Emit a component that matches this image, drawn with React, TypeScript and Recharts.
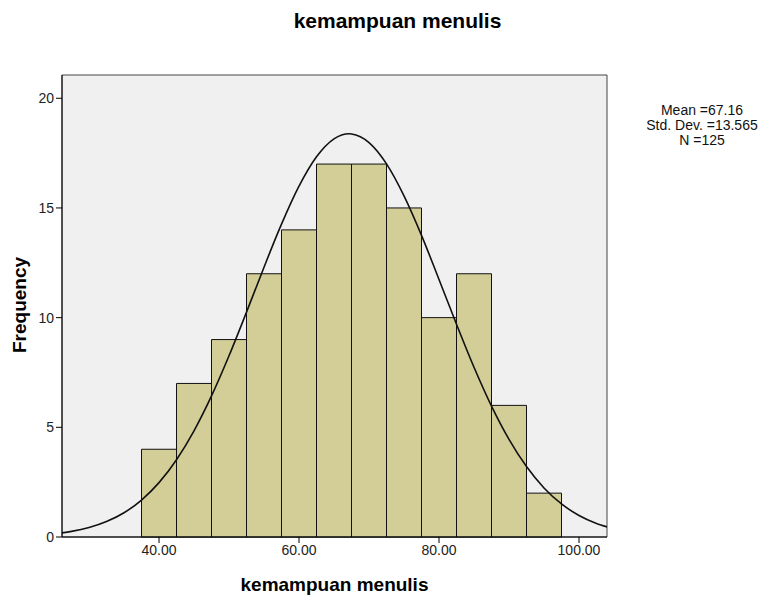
import React from 'react';
import { ComposedChart, Line, XAxis, YAxis, ReferenceArea } from 'recharts';

const binStarts = [37.5, 42.5, 47.5, 52.5, 57.5, 62.5, 67.5, 72.5, 77.5, 82.5, 87.5, 92.5];
const binEnds = [42.5, 47.5, 52.5, 57.5, 62.5, 67.5, 72.5, 77.5, 82.5, 87.5, 92.5, 97.5];
const frequencies = [4, 7, 9, 12, 14, 17, 17, 15, 10, 12, 6, 2];

const curveX = [26, 27.5, 30, 32.5, 35, 37.5, 40, 42.5, 45, 47.5, 50, 52.5, 55, 57.5, 60, 62.5, 65, 67.16, 67.5, 70, 72.5, 75, 77.5, 80, 82.5, 85, 87.5, 90, 92.5, 95, 97.5, 100, 102.5, 104];
const curveY = [0.184, 0.256, 0.431, 0.703, 1.106, 1.684, 2.478, 3.523, 4.841, 6.431, 8.26, 10.25, 12.3, 14.26, 15.99, 17.33, 18.15, 18.38, 18.37, 17.98, 17.01, 15.55, 13.75, 11.74, 9.7, 7.74, 5.97, 4.454, 3.211, 2.237, 1.507, 0.981, 0.617, 0.46];

const xTicks = [40, 60, 80, 100];
const yTicks = [0, 5, 10, 15, 20];
const xDomain: [number, number] = [26.14, 104];
const yDomain: [number, number] = [0, 21.06];
const statsLines = ['Mean =67.16', 'Std. Dev. =13.565', 'N =125'];

const curveData = curveX.map((x, i) => ({ x, y: curveY[i] }));

const font = 'Arial, "Liberation Sans", sans-serif';

export default function App() {
  return (
    <div style={{ position: 'absolute', left: 0, top: 0, width: 763, height: 600, background: '#fff', fontFamily: font }}>
      <div style={{ position: 'absolute', left: 0, width: 795, top: 9, textAlign: 'center', fontSize: 21, fontWeight: 'bold', color: '#000' }}>
        kemampuan menulis
      </div>
      <ComposedChart width={763} height={600} data={curveData} margin={{ top: 75, right: 156, bottom: 33, left: 0 }}>
        <XAxis
          dataKey="x"
          type="number"
          domain={xDomain}
          allowDataOverflow
          ticks={xTicks}
          tickFormatter={(v: number) => v.toFixed(2)}
          height={30}
          axisLine={{ stroke: '#000' }}
          tickLine={{ stroke: '#000' }}
          tickSize={6}
          tick={{ fill: '#222', fontSize: 14, fontFamily: font }}
        />
        <YAxis
          type="number"
          domain={yDomain}
          allowDataOverflow
          ticks={yTicks}
          width={62}
          axisLine={{ stroke: '#000' }}
          tickLine={{ stroke: '#000' }}
          tickSize={6}
          tick={{ fill: '#222', fontSize: 14, fontFamily: font }}
        />
        <ReferenceArea
          x1={xDomain[0]}
          x2={xDomain[1]}
          y1={yDomain[0]}
          y2={yDomain[1]}
          fill="#f0f0f0"
          fillOpacity={1}
          stroke="#444"
          strokeWidth={1}
        />
        {frequencies.map((f, i) => (
          <ReferenceArea
            key={i}
            x1={binStarts[i]}
            x2={binEnds[i]}
            y1={0}
            y2={f}
            fill="#d3ce97"
            fillOpacity={1}
            stroke="#111"
            strokeWidth={1}
          />
        ))}
        <Line dataKey="y" type="monotone" dot={false} stroke="#111" strokeWidth={1.6} isAnimationActive={false} />
      </ComposedChart>
      <div style={{ position: 'absolute', left: 62, width: 545, top: 574, textAlign: 'center', fontSize: 19, fontWeight: 'bold', color: '#000' }}>
        kemampuan menulis
      </div>
      <div style={{ position: 'absolute', left: 20, top: 305, width: 0, height: 0 }}>
        <div style={{ position: 'absolute', left: -100, top: -12, width: 200, textAlign: 'center', transform: 'rotate(-90deg)', fontSize: 19, fontWeight: 'bold', color: '#000', lineHeight: '24px' }}>
          Frequency
        </div>
      </div>
      <div style={{ position: 'absolute', left: 622, width: 160, top: 103, textAlign: 'center', fontSize: 14, lineHeight: '15px', color: '#111' }}>
        {statsLines.map((s, i) => (
          <div key={i}>{s}</div>
        ))}
      </div>
    </div>
  );
}
